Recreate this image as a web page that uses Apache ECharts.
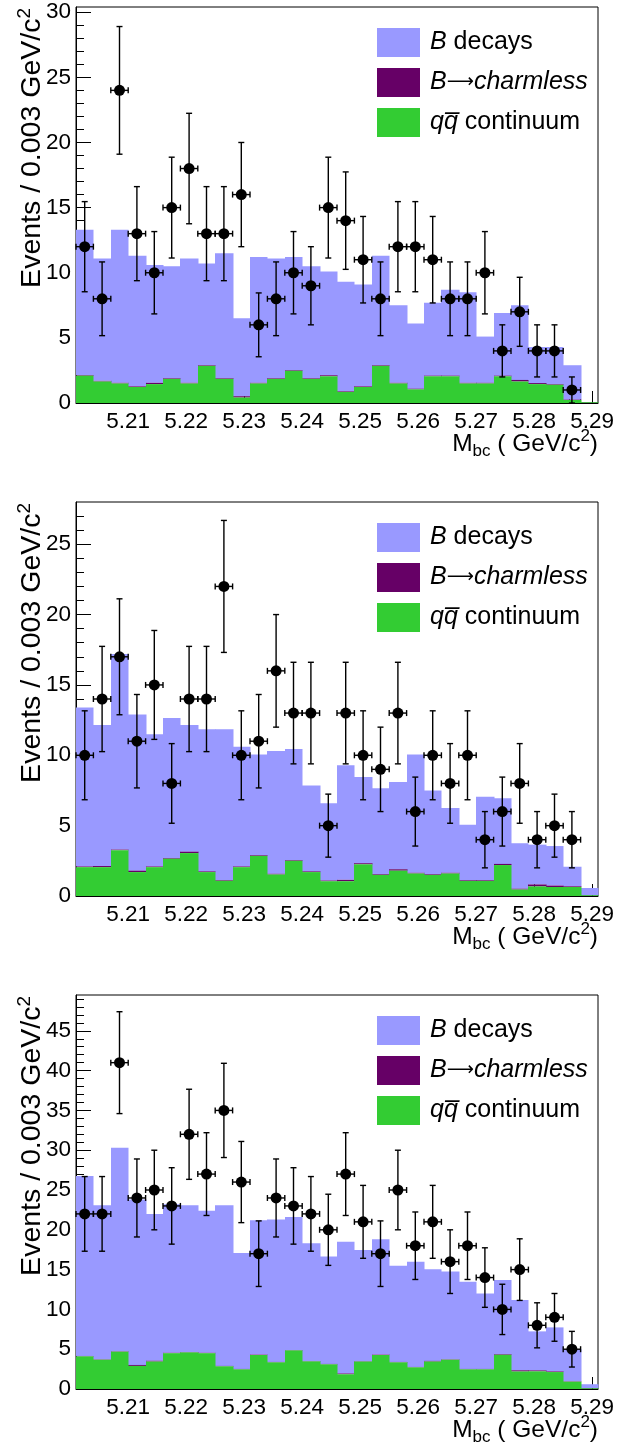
<!DOCTYPE html>
<html><head><meta charset="utf-8">
<script src="https://cdn.jsdelivr.net/npm/echarts@6/dist/echarts.min.js"></script>
<style>html,body{margin:0;padding:0;background:#fff}#c{width:621px;height:1444px}</style>
</head><body><div id="c"></div>
<script>
// ---------------- DATA ----------------
const binCenters = [5.2025,5.2055,5.2085,5.2115,5.2145,5.2175,5.2205,5.2235,5.2265,5.2295,
  5.2325,5.2355,5.2385,5.2415,5.2445,5.2475,5.2505,5.2535,5.2565,5.2595,
  5.2625,5.2655,5.2685,5.2715,5.2745,5.2775,5.2805,5.2835,5.2865,5.2895];
const binHalfWidth = 0.0015;
const xRange = [5.201, 5.291];
const xTickLabels = [5.21,5.22,5.23,5.24,5.25,5.26,5.27,5.28,5.29];

// Panel 1
const data1 = [12,8,24,13,10,15,18,13,13,16,6,8,10,9,15,14,11,8,12,12,11,8,8,10,4,7,4,4,1,0];
const err1  = [3.46,2.83,4.9,3.61,3.16,3.87,4.24,3.61,3.61,4,2.45,2.83,3.16,3,3.87,3.74,3.32,2.83,3.46,3.46,3.32,2.83,2.83,3.16,2,2.65,2,2,1,0];
const qq1   = [2.1,1.65,1.5,1.23,1.45,1.85,1.5,2.85,1.85,0.42,1.5,1.85,2.47,1.85,2.05,0.85,1.23,2.85,1.5,1.05,2.05,2.05,1.5,1.5,2.05,1.65,1.45,1.4,0.23,0.05];
const chl1  = [0.05,0.05,0.05,0.05,0.1,0.05,0.05,0.05,0.05,0.1,0.05,0.05,0.05,0.05,0.08,0.05,0.05,0.05,0.05,0.05,0.05,0.05,0.05,0.05,0.05,0.12,0.08,0.05,0.03,0];
const bdec1 = [11.15,9.4,11.75,10.02,9.05,8.6,9.55,7.8,9.6,5.98,9.65,9.2,8.68,8.6,7.97,8.4,7.82,8.4,5.95,5.0,5.6,6.6,6.95,3.55,4.8,5.73,2.77,2.85,2.64,0];

// Panel 2
const data2 = [10,14,17,11,15,8,14,14,22,10,11,16,13,13,5,13,10,9,13,6,10,8,10,4,6,8,4,5,4,0];
const err2  = [3.16,3.74,4.12,3.32,3.87,2.83,3.74,3.74,4.69,3.16,3.32,4,3.61,3.61,2.24,3.61,3.16,3,3.61,2.45,3.16,2.83,3.16,2,2.45,2.83,2,2.24,2,0];
const qq2   = [2.05,2.05,3.25,1.7,2.05,2.65,3.05,1.7,1.08,2.05,2.85,1.53,2.5,1.7,1.05,1.05,2.25,1.5,1.8,1.6,1.5,1.6,1.07,1.07,2.2,0.46,0.68,0.64,0.64,0.05];
const chl2  = [0.05,0.08,0.05,0.1,0.05,0.05,0.1,0.05,0.05,0.05,0.05,0.05,0.05,0.05,0.05,0.1,0.08,0.05,0.1,0.05,0.05,0.05,0.05,0.05,0.08,0.06,0.14,0.1,0.05,0];
const bdec2 = [11.3,10.02,13.9,11.1,9.4,9.95,9.0,10.1,10.72,8.5,7.15,8.72,7.9,6.1,5.5,8.15,6.12,6.1,6.2,8.4,5.95,4.6,3.95,5.93,4.67,3.23,2.83,2.81,1.39,0.52];

// Panel 3
const data3 = [22,22,41,24,25,23,32,27,35,26,17,24,23,22,20,27,21,17,25,18,21,16,18,14,10,15,8,9,5,0];
const err3  = [4.69,4.69,6.4,4.9,5,4.8,5.66,5.2,5.92,5.1,4.12,4.9,4.8,4.69,4.47,5.2,4.58,4.12,5,4.24,4.58,4,4.24,3.74,3.16,3.87,2.83,3,2.24,0];
const qq3   = [4.1,3.68,4.69,2.9,3.45,4.5,4.6,4.5,2.85,2.47,4.27,3.35,4.85,3.47,3.1,1.85,3.45,4.27,3.35,2.72,3.45,3.68,2.47,2.47,4.3,2.2,2.22,2.13,0.92,0.08];
const chl3  = [0.05,0.05,0.05,0.12,0.1,0.05,0.05,0.05,0.05,0.05,0.05,0.05,0.05,0.05,0.05,0.1,0.05,0.05,0.05,0.05,0.08,0.05,0.05,0.05,0.08,0.15,0.12,0.08,0.05,0.02];
const bdec3 = [22.6,19.37,25.56,20.78,18.45,18.65,18.45,17.85,20.2,14.58,16.88,17.9,16.7,14.78,13.5,16.55,13.95,14.48,12.1,13.23,11.53,11.04,10.95,9.48,9.32,8.82,4.9,5.53,4.03,0.5];

const yMax = [30.4, 28.0, 49.5];
const yTickLabels = [[0,5,10,15,20,25,30],[0,5,10,15,20,25],[0,5,10,15,20,25,30,35,40,45]];

const seriesNames = ['B decays', 'B\u2192charmless', 'qq\u0305 continuum'];
const colors = {bdec:'#9999ff', chl:'#660066', qq:'#33cc33'};

// ---------------- LAYOUT ----------------
const FONT = 'Liberation Sans';
const gridLeft = 76, gridWidth = 522;
const tops = [7, 502, 995];
const heights = [396, 394, 394];

const panels = [
  {data:data1, err:err1, qq:qq1, chl:chl1, bdec:bdec1},
  {data:data2, err:err2, qq:qq2, chl:chl2, bdec:bdec2},
  {data:data3, err:err3, qq:qq3, chl:chl3, bdec:bdec3}
];

// minor tick positions (axis decoration)
const xMinor = [];
for (let k = 1; k <= 45; k++) { const v = +(5.2 + 0.002*k).toFixed(3); if (Math.abs(v*100 - Math.round(v*100)) > 1e-6 && v > xRange[0] && v < xRange[1]) xMinor.push(v); }
function yMinorFor(max){ const a=[]; for(let v=1; v<max; v++){ if(v%5!==0) a.push(v);} return a; }

const grids=[], xAxes=[], yAxes=[], series=[], legends=[], graphics=[];

function rectRender(color){
  return function(params, api){
    const p0 = api.coord([api.value(0), api.value(2)]);
    const p1 = api.coord([api.value(1), api.value(3)]);
    const x0 = Math.round(p0[0]), x1 = Math.round(p1[0]);
    return {type:'rect', shape:{x:x0, y:p1[1], width:x1-x0+0.5, height:p0[1]-p1[1]}, style:{fill:color}};
  };
}

function pointRender(params, api){
  const x = api.value(0), y = api.value(1), e = api.value(2);
  const c = api.coord([x,y]);
  const t = api.coord([x,y+e]);
  const b = api.coord([x,y-e]);
  const l = api.coord([x-binHalfWidth,y]);
  const r = api.coord([x+binHalfWidth,y]);
  const st = {stroke:'#000', lineWidth:1.4};
  return {type:'group', children:[
    {type:'line', shape:{x1:c[0],y1:t[1],x2:c[0],y2:b[1]}, style:st},
    {type:'line', shape:{x1:c[0]-3,y1:t[1],x2:c[0]+3,y2:t[1]}, style:st},
    {type:'line', shape:{x1:c[0]-3,y1:b[1],x2:c[0]+3,y2:b[1]}, style:st},
    {type:'line', shape:{x1:l[0],y1:c[1],x2:r[0],y2:c[1]}, style:st},
    {type:'line', shape:{x1:l[0],y1:c[1]-3,x2:l[0],y2:c[1]+3}, style:st},
    {type:'line', shape:{x1:r[0],y1:c[1]-3,x2:r[0],y2:c[1]+3}, style:st},
    {type:'circle', shape:{cx:c[0], cy:c[1], r:5.5}, style:{fill:'#000'}}
  ]};
}

panels.forEach((P, p) => {
  grids.push({left:gridLeft, width:gridWidth, top:tops[p], height:heights[p], show:true, borderColor:'#000', borderWidth:1, backgroundColor:'transparent'});
  xAxes.push({gridIndex:p, type:'value', position:'bottom', min:xRange[0], max:xRange[1],
    axisLine:{show:true, onZero:false, lineStyle:{color:'#000', width:1}},
    axisTick:{show:true, inside:true, length:12, customValues:xTickLabels, lineStyle:{color:'#000', width:1}},
    axisLabel:{show:true, customValues:xTickLabels, formatter:v=>v.toFixed(2), color:'#000', fontSize:22.5, fontFamily:FONT, margin:7},
    splitLine:{show:false}});
  xAxes.push({gridIndex:p, type:'value', position:'bottom', min:xRange[0], max:xRange[1],
    axisLine:{show:false, onZero:false},
    axisTick:{show:true, inside:true, length:6, customValues:xMinor, lineStyle:{color:'#000', width:1}},
    axisLabel:{show:false}, splitLine:{show:false}});
  yAxes.push({gridIndex:p, type:'value', position:'left', min:0, max:yMax[p],
    axisLine:{show:true, onZero:false, lineStyle:{color:'#000', width:1}},
    axisTick:{show:true, inside:true, length:15, customValues:yTickLabels[p], lineStyle:{color:'#000', width:1}},
    axisLabel:{show:true, customValues:yTickLabels[p], color:'#000', fontSize:22.5, fontFamily:FONT, margin:5},
    splitLine:{show:false}});
  yAxes.push({gridIndex:p, type:'value', position:'left', min:0, max:yMax[p],
    axisLine:{show:false, onZero:false},
    axisTick:{show:true, inside:true, length:8, customValues:yMinorFor(yMax[p]), lineStyle:{color:'#000', width:1}},
    axisLabel:{show:false}, splitLine:{show:false}});

  const xi = 2*p, yi = 2*p;
  const qqData = binCenters.map((c,i)=>[c-binHalfWidth, c+binHalfWidth, 0, P.qq[i]]);
  const chlData = binCenters.map((c,i)=>[c-binHalfWidth, c+binHalfWidth, P.qq[i], P.qq[i]+P.chl[i]]);
  const bdData = binCenters.map((c,i)=>[c-binHalfWidth, c+binHalfWidth, P.qq[i]+P.chl[i], P.qq[i]+P.chl[i]+P.bdec[i]]);
  series.push({type:'custom', name:seriesNames[0], xAxisIndex:xi, yAxisIndex:yi, data:bdData, renderItem:rectRender(colors.bdec), itemStyle:{color:colors.bdec}, z:1, silent:true});
  series.push({type:'custom', name:seriesNames[1], xAxisIndex:xi, yAxisIndex:yi, data:chlData, renderItem:rectRender(colors.chl), itemStyle:{color:colors.chl}, z:2, silent:true});
  series.push({type:'custom', name:seriesNames[2], xAxisIndex:xi, yAxisIndex:yi, data:qqData, renderItem:rectRender(colors.qq), itemStyle:{color:colors.qq}, z:3, silent:true});
  const pts = binCenters.map((c,i)=>[c, P.data[i], P.err[i]]).filter(d=>d[1]>0);
  series.push({type:'custom', name:'Data', xAxisIndex:xi, yAxisIndex:yi, data:pts, renderItem:pointRender, z:5, silent:true});

  legends.push({data:seriesNames, orient:'vertical', left:377, top:tops[p]+21, padding:0, itemWidth:43, itemHeight:29, itemGap:11,
    icon:'rect', selectedMode:false,
    formatter: function(name){
      if (name === seriesNames[0]) return '{i|B}{r| decays}';
      if (name === seriesNames[1]) return '{i|B}{a|\u27F6}{i|charmless}';
      return '{i|qq\u0305}{r| continuum}';
    },
    textStyle:{padding:[0,0,0,5], lineHeight:29, rich:{
      i:{fontSize:25, fontFamily:FONT, fontStyle:'italic', color:'#000', lineHeight:29},
      a:{fontSize:19, fontFamily:'DejaVu Sans', color:'#000', lineHeight:29},
      r:{fontSize:25, fontFamily:FONT, color:'#000', lineHeight:29}}}
  });

  graphics.push({type:'text', x:32, y:tops[p]+1, rotation:Math.PI/2, z:10,
    style:{text:'{a|Events / 0.003 GeV/c}{s|2}', align:'right', verticalAlign:'middle',
      rich:{a:{fontSize:28.5, fontFamily:FONT, fill:'#000', lineHeight:34}, s:{fontSize:19, fontFamily:FONT, fill:'#000', verticalAlign:'top', lineHeight:19}}}});
  graphics.push({type:'text', x:598, y:tops[p]+heights[p]+41, z:10,
    style:{text:'{m|M}{b|bc}{m| ( GeV/c}{s|2}{m|)}', align:'right', verticalAlign:'middle',
      rich:{m:{fontSize:24.5, fontFamily:FONT, fill:'#000', lineHeight:32},
            b:{fontSize:17, fontFamily:FONT, fill:'#000', verticalAlign:'bottom', lineHeight:16},
            s:{fontSize:17, fontFamily:FONT, fill:'#000', verticalAlign:'top', lineHeight:16}}}});
});

const chart = echarts.init(document.getElementById('c'), null, {renderer:'canvas'});
chart.setOption({
  animation:false,
  backgroundColor:'#fff',
  textStyle:{fontFamily:FONT},
  grid:grids, xAxis:xAxes, yAxis:yAxes, series:series, legend:legends, graphic:graphics
});
</script>
</body></html>
